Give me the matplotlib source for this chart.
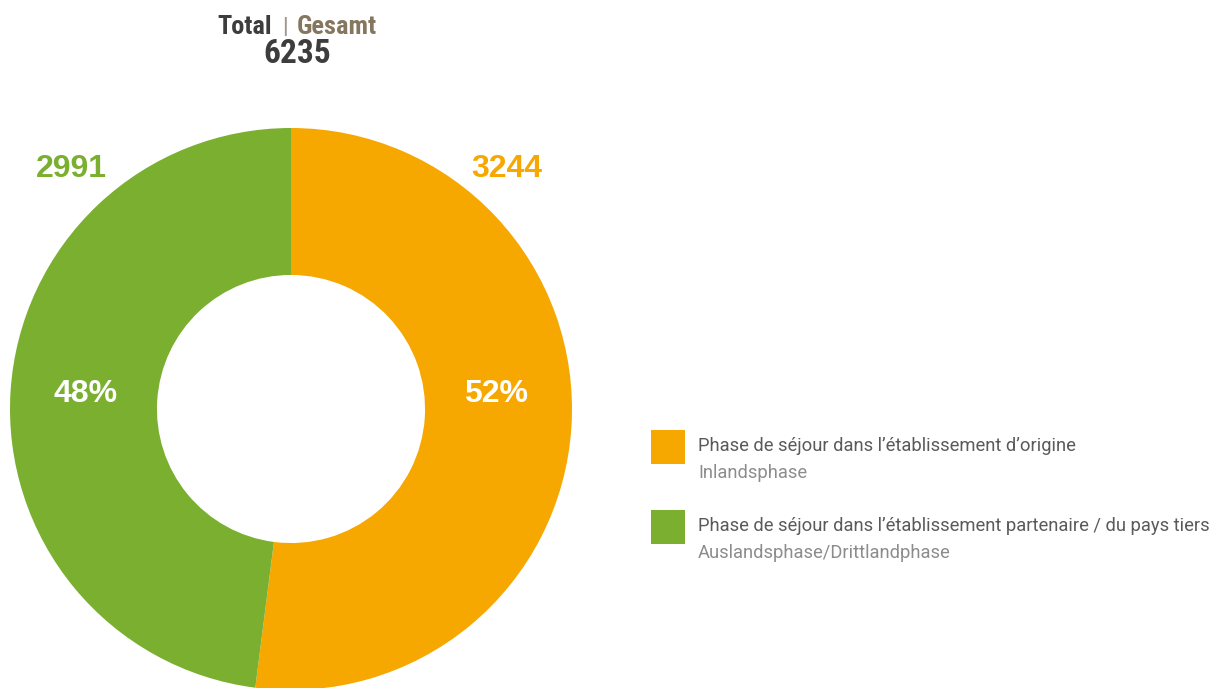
import matplotlib
matplotlib.use("Agg")
import matplotlib.pyplot as plt
from matplotlib.patches import Rectangle

categories_fr = ["Phase de séjour dans l’établissement d’origine",
                 "Phase de séjour dans l’établissement partenaire / du pays tiers"]
categories_de = ["Inlandsphase", "Auslandsphase/Drittlandphase"]
values = [3244, 2991]
total = 6235
colors = ["#F7A800", "#7AAF30"]

W, H = 1214, 688
fig = plt.figure(figsize=(W / 100, H / 100), dpi=100)

cx, cy, r = 291, 409, 281
ax = fig.add_axes([(cx - r) / W, (H - cy - r) / H, 2 * r / W, 2 * r / H])
wedges, _ = ax.pie(values, colors=colors, startangle=90, counterclock=False,
                   radius=1, wedgeprops=dict(width=0.523, linewidth=0))
ax.set_xlim(-1, 1)
ax.set_ylim(-1, 1)
ax.set_aspect("equal")
ax.axis("off")

bold = dict(family=["Liberation Sans", "DejaVu Sans"], weight="bold")
pct = [v / total * 100 for v in values]

def px(x, y):
    return x / W, 1 - y / H

fig.text(*px(496, 402), f"{pct[0]:.0f}%", color="white", fontsize=23, ha="center", va="baseline", **bold)
fig.text(*px(86, 402), f"{pct[1]:.0f}%", color="white", fontsize=23, ha="center", va="baseline", **bold)
fig.text(*px(507, 177), f"{values[0]}", color=colors[0], fontsize=23, ha="center", va="baseline", **bold)
fig.text(*px(71, 177), f"{values[1]}", color=colors[1], fontsize=23, ha="center", va="baseline", **bold)

# Title
cond = ["Roboto Condensed", "DejaVu Sans"]
fig.text(*px(272, 34), "Total", color="#3D3D3D", fontsize=19, ha="right", va="baseline",
         family=cond, weight="bold")
fig.text(*px(285, 33), "|", color="#A0968A", fontsize=16, ha="center", va="baseline",
         family=cond, weight="bold")
fig.text(*px(297, 34), "Gesamt", color="#85775F", fontsize=19, ha="left", va="baseline",
         family=cond, weight="bold")
fig.text(*px(297, 63), f"{total}", color="#3D3D3D", fontsize=24, ha="center", va="baseline",
         family=cond, weight="bold")

# Legend
leg_font = ["Roboto", "DejaVu Sans"]
for i, (fr, de) in enumerate(zip(categories_fr, categories_de)):
    top = 430 + i * 80
    fig.patches.append(Rectangle((651 / W, 1 - (top + 34) / H), 34 / W, 34 / H,
                                 transform=fig.transFigure, color=colors[i], linewidth=0))
    fig.text(*px(698, top + 21), fr, color="#5A5A5A", fontsize=13.2, ha="left", va="baseline",
             family=leg_font)
    fig.text(*px(698, top + 48), de, color="#8C8C8C", fontsize=13.2, ha="left", va="baseline",
             family=leg_font)

fig.savefig("out.png", dpi=100)
